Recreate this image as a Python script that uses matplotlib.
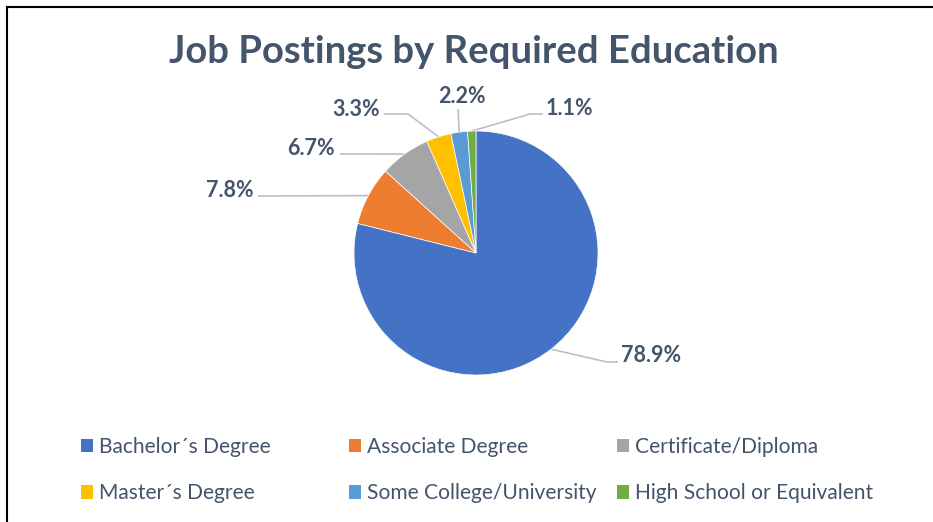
import matplotlib
matplotlib.use("Agg")
import matplotlib.pyplot as plt
from matplotlib.lines import Line2D
import numpy as np

categories = ["Bachelor´s Degree", "Associate Degree", "Certificate/Diploma",
              "Master´s Degree", "Some College/University", "High School or Equivalent"]
shares = [78.9, 7.8, 6.7, 3.3, 2.2, 1.1]
colors = ["#4472C4", "#ED7D31", "#A5A5A5", "#FFC000", "#5B9BD5", "#70AD47"]

TEXT = "#44546A"
LEADER = "#B4C0D0"
W, H = 933, 522

# label layout in pixel coords (x, baseline y), and extra leader points
label_pos = [(651, 362), (230, 197), (311, 155), (356, 116), (462, 103), (569, 115)]
leader_pts = [
    [(618, 362), (607, 362)],
    [(258, 196)],
    [(340, 154)],
    [(384, 114), (408, 114)],
    [(458, 109)],
    [(543, 114), (530, 114)],
]

plt.rcParams['font.family'] = ['Lato', 'DejaVu Sans']

fig = plt.figure(figsize=(W / 100, H / 100), dpi=100)
ax = fig.add_axes([0, 0, 1, 1])

def py(y):
    return H - y

cx, cy, r = 476, py(253), 122
wedges, _ = ax.pie(shares, colors=colors, startangle=90, counterclock=False,
                   center=(cx, cy), radius=r,
                   wedgeprops=dict(edgecolor="white", linewidth=0.5))
ax.set_xlim(0, W)
ax.set_ylim(0, H)
ax.axis("off")

for w, val, (lx, ly), pts in zip(wedges, shares, label_pos, leader_pts):
    th = np.deg2rad((w.theta1 + w.theta2) / 2)
    ex, ey = cx + r * np.cos(th), cy + r * np.sin(th)
    xs = [p[0] for p in pts] + [ex]
    ys = [py(p[1]) for p in pts] + [ey]
    ax.plot(xs, ys, color=LEADER, lw=1.2, solid_capstyle="butt", zorder=0)
    ax.text(lx, py(ly), f"{val:.1f}%", ha="center", va="baseline",
            fontsize=15.5, fontweight="bold", color=TEXT)

ax.text(474, py(63), "Job Postings by Required Education", ha="center",
        va="baseline", fontsize=27.5, fontweight="bold", color=TEXT)

# legend: three columns, two rows each
for col in range(3):
    idx = [col, col + 3]
    leg = fig.legend([wedges[i] for i in idx], [categories[i] for i in idx],
                     loc="upper left", frameon=False, fontsize=15.1,
                     handlelength=0.58, handleheight=0.58,
                     handletextpad=0.3, labelspacing=1.26, borderpad=0, borderaxespad=0)
    leg.set_bbox_to_anchor(((82 + 268 * col - 1) / W, 1 - 437 / H), transform=fig.transFigure)
    for t in leg.get_texts():
        t.set_color(TEXT)
    for p in leg.get_patches():
        p.set_edgecolor("none")

# outer frame (left and top edges visible)
fig.add_artist(Line2D([7.5 / W, 7.5 / W], [0, 1 - 6.5 / H], color="black", lw=1.5,
                      transform=fig.transFigure))
fig.add_artist(Line2D([7.5 / W, 1], [1 - 6.5 / H, 1 - 6.5 / H], color="black", lw=1.5,
                      transform=fig.transFigure))

fig.savefig("out.png", dpi=100)
